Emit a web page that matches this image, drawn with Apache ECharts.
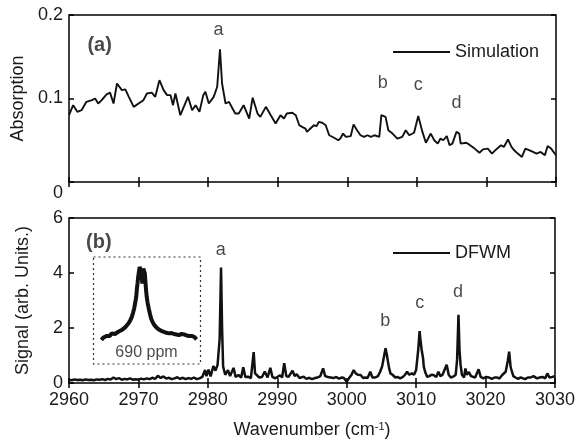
<!DOCTYPE html>
<html>
<head>
<meta charset="utf-8">
<script src="https://cdn.jsdelivr.net/npm/echarts@6/dist/echarts.min.js"></script>
<style>html,body{margin:0;padding:0;background:#fff}#c{width:578px;height:442px}</style>
</head>
<body>
<div id="c"></div>
<script>
// ---- data ----
const xTicks = [2960, 3030, 10];
const absTicks = [0, 0.2, 0.1];
const sigTicks = [0, 6, 2];

const simulation = [
[2960.0,0.080],[2960.6,0.092],[2961.2,0.084],[2961.8,0.086],[2962.5,0.096],[2963.3,0.098],[2963.75,0.100],[2964.2,0.094],[2964.7,0.098],[2965.4,0.105],[2965.9,0.107],[2966.4,0.094],[2966.9,0.118],[2967.6,0.110],[2968.1,0.111],[2968.6,0.102],[2969.3,0.090],[2970.0,0.094],[2970.7,0.098],[2971.2,0.106],[2971.9,0.107],[2972.4,0.102],[2973.0,0.122],[2973.6,0.110],[2974.1,0.104],[2974.6,0.104],[2974.95,0.092],[2975.3,0.106],[2976.0,0.080],[2976.5,0.090],[2977.1,0.102],[2977.7,0.086],[2978.2,0.092],[2978.75,0.084],[2979.3,0.104],[2979.6,0.108],[2980.1,0.094],[2980.8,0.102],[2981.3,0.114],[2981.7,0.159],[2982.0,0.118],[2982.5,0.094],[2983.0,0.096],[2983.5,0.088],[2983.9,0.082],[2984.4,0.082],[2985.1,0.092],[2985.9,0.076],[2986.4,0.101],[2987.1,0.082],[2987.5,0.078],[2988.3,0.090],[2989.0,0.080],[2989.7,0.070],[2990.4,0.080],[2990.9,0.076],[2991.3,0.082],[2992.1,0.083],[2992.6,0.080],[2993.1,0.068],[2993.5,0.066],[2994.0,0.064],[2994.2,0.060],[2994.7,0.064],[2995.2,0.068],[2995.6,0.067],[2995.9,0.072],[2996.4,0.071],[2996.9,0.068],[2997.4,0.056],[2998.1,0.053],[2998.7,0.050],[2999.0,0.052],[2999.4,0.058],[2999.8,0.054],[3000.5,0.055],[3000.9,0.069],[3001.4,0.062],[3001.9,0.056],[3002.4,0.054],[3002.9,0.056],[3003.4,0.054],[3003.9,0.056],[3004.6,0.054],[3004.9,0.080],[3005.5,0.078],[3005.9,0.062],[3006.5,0.058],[3007.2,0.052],[3007.9,0.054],[3008.4,0.062],[3008.9,0.056],[3009.6,0.059],[3010.2,0.079],[3010.8,0.060],[3011.3,0.047],[3012.0,0.058],[3012.5,0.050],[3013.0,0.046],[3013.4,0.052],[3013.8,0.050],[3014.3,0.055],[3014.7,0.044],[3015.1,0.046],[3015.7,0.060],[3016.1,0.058],[3016.3,0.046],[3017.1,0.047],[3017.5,0.045],[3018.3,0.040],[3019.0,0.035],[3019.5,0.039],[3020.2,0.040],[3020.8,0.034],[3021.4,0.039],[3022.1,0.044],[3022.5,0.042],[3023.1,0.051],[3023.6,0.042],[3024.0,0.038],[3024.5,0.034],[3025.1,0.030],[3025.6,0.040],[3026.2,0.038],[3026.7,0.036],[3027.2,0.034],[3027.8,0.036],[3028.4,0.032],[3028.8,0.043],[3029.3,0.040],[3030.0,0.032]
];

const dfwm = [
[2960.0,0.12],[2960.4,0.10],[2960.8,0.13],[2961.2,0.11],[2961.6,0.12],[2962.0,0.10],[2962.4,0.13],[2962.8,0.11],[2963.2,0.12],[2963.6,0.10],[2964.0,0.13],[2964.4,0.12],[2964.8,0.14],[2965.2,0.11],[2965.6,0.15],[2966.0,0.13],[2966.4,0.20],[2966.8,0.14],[2967.2,0.18],[2967.6,0.12],[2968.0,0.15],[2968.4,0.13],[2968.8,0.17],[2969.2,0.12],[2969.6,0.14],[2970.0,0.12],[2970.4,0.16],[2970.8,0.13],[2971.2,0.17],[2971.6,0.14],[2972.0,0.19],[2972.4,0.15],[2972.8,0.26],[2973.2,0.18],[2973.6,0.24],[2974.0,0.16],[2974.4,0.19],[2974.8,0.14],[2975.2,0.17],[2975.6,0.21],[2976.0,0.15],[2976.4,0.19],[2976.8,0.14],[2977.2,0.18],[2977.6,0.15],[2978.0,0.20],[2978.4,0.14],[2978.8,0.17],[2979.2,0.22],[2979.6,0.47],[2979.8,0.25],[2980.1,0.49],[2980.4,0.24],[2980.8,0.62],[2981.1,0.45],[2981.4,0.66],[2981.7,1.6],[2981.9,4.2],[2982.05,2.0],[2982.2,0.6],[2982.5,0.3],[2982.9,0.47],[2983.2,0.25],[2983.7,0.55],[2984.0,0.22],[2984.4,0.29],[2984.8,0.2],[2985.1,0.57],[2985.4,0.22],[2985.8,0.23],[2986.2,0.18],[2986.6,1.12],[2986.8,0.35],[2987.0,0.42],[2987.4,0.2],[2987.8,0.22],[2988.2,0.42],[2988.6,0.2],[2989.0,0.55],[2989.3,0.22],[2989.7,0.17],[2990.0,0.22],[2990.4,0.28],[2990.7,0.2],[2991.0,0.72],[2991.3,0.25],[2991.6,0.22],[2992.2,0.45],[2992.5,0.25],[2992.8,0.32],[2993.2,0.18],[2993.8,0.23],[2994.2,0.15],[2994.6,0.19],[2995.0,0.14],[2995.4,0.18],[2995.8,0.2],[2996.2,0.25],[2996.6,0.53],[2996.9,0.25],[2997.3,0.22],[2997.7,0.2],[2998.1,0.18],[2998.5,0.22],[2998.9,0.16],[2999.3,0.2],[2999.6,0.18],[3000.0,0.05],[3000.4,0.2],[3000.7,0.3],[3001.0,0.47],[3001.3,0.35],[3001.6,0.3],[3002.0,0.29],[3002.4,0.18],[3002.7,0.2],[3003.0,0.18],[3003.4,0.41],[3003.7,0.2],[3004.1,0.2],[3004.5,0.25],[3004.8,0.4],[3005.1,0.6],[3005.4,1.0],[3005.6,1.26],[3005.8,1.0],[3005.9,0.84],[3006.1,0.55],[3006.3,0.35],[3006.6,0.3],[3007.0,0.2],[3007.3,0.22],[3007.7,0.17],[3008.1,0.22],[3008.4,0.3],[3008.7,0.41],[3009.0,0.3],[3009.4,0.35],[3009.7,0.3],[3010.0,0.47],[3010.3,1.2],[3010.5,1.89],[3010.65,1.5],[3010.8,1.2],[3011.0,0.9],[3011.1,0.6],[3011.3,0.4],[3011.6,0.22],[3011.9,0.25],[3012.2,0.3],[3012.5,0.29],[3012.9,0.22],[3013.2,0.41],[3013.5,0.25],[3013.8,0.3],[3014.0,0.25],[3014.4,0.66],[3014.7,0.29],[3015.0,0.2],[3015.4,0.24],[3015.7,0.3],[3015.9,0.84],[3016.1,2.48],[3016.25,1.2],[3016.4,0.66],[3016.6,0.3],[3016.9,0.2],[3017.1,0.53],[3017.3,0.3],[3017.6,0.4],[3017.9,0.25],[3018.1,0.29],[3018.5,0.2],[3019.0,0.5],[3019.3,0.22],[3019.7,0.17],[3020.1,0.22],[3020.5,0.2],[3020.9,0.15],[3021.3,0.2],[3021.7,0.2],[3022.0,0.16],[3022.4,0.29],[3022.9,0.41],[3023.2,0.8],[3023.4,1.14],[3023.6,0.6],[3023.7,0.5],[3024.0,0.25],[3024.3,0.2],[3024.7,0.15],[3025.0,0.2],[3025.3,0.18],[3025.7,0.14],[3026.1,0.2],[3026.5,0.2],[3026.9,0.25],[3027.4,0.17],[3027.8,0.2],[3028.2,0.22],[3028.6,0.17],[3028.9,0.35],[3029.2,0.2],[3029.6,0.22],[3030.0,0.25]
];

// inset (zoomed peak a, relative units)
const insetPeak = [
[7.9,0.224],[9.5,0.245],[11.0,0.254],[12.6,0.262],[14.2,0.270],[15.8,0.262],[17.4,0.286],[19.0,0.276],[20.5,0.280],[22.1,0.296],[23.7,0.301],[25.3,0.308],[26.8,0.317],[28.4,0.326],[30.0,0.342],[31.6,0.356],[33.1,0.379],[34.7,0.405],[36.3,0.441],[37.4,0.478],[38.5,0.519],[39.5,0.575],[40.4,0.627],[41.0,0.700],[41.6,0.752],[42.3,0.820],[42.9,0.860],[43.6,0.905],[44.2,0.907],[44.8,0.880],[45.4,0.845],[46.1,0.752],[46.6,0.830],[47.0,0.892],[47.5,0.910],[47.9,0.907],[48.4,0.850],[48.9,0.783],[49.5,0.700],[50.2,0.627],[51.1,0.570],[52.1,0.519],[53.2,0.470],[54.3,0.426],[55.8,0.390],[57.4,0.363],[59.4,0.340],[61.5,0.323],[63.8,0.310],[66.2,0.301],[68.6,0.292],[71.0,0.286],[73.4,0.290],[75.7,0.280],[78.0,0.276],[80.4,0.270],[82.8,0.281],[85.2,0.277],[87.5,0.266],[89.9,0.261],[92.2,0.262],[94.6,0.254],[96.8,0.230]
];

const topPeakLabels = [['a',2981.5,0.182],['b',3005.1,0.119],['c',3010.2,0.116],['d',3015.7,0.094]];
const bottomPeakLabels = [['a',2981.86,4.85],['b',3005.56,2.26],['c',3010.53,2.91],['d',3016.05,3.32]];
const panelLabels = [['(a)',2964.4,0.164],['(b)',2964.3,5.11]];
const insetText = [['690 ppm',50,0.105]];

// ---- chart ----
const FONT = 'Liberation Sans, Arial, sans-serif';
const TXT = '#1a1a1a';
const chart = echarts.init(document.getElementById('c'), null, {renderer:'canvas'});

function xAx(grid, pos, labels, extra) {
  return Object.assign({
    type:'value', gridIndex:grid, position:pos, min:xTicks[0], max:xTicks[1], interval:xTicks[2],
    axisLine:{show:false}, splitLine:{show:false},
    axisTick:{show:true, inside:true, length:5, lineStyle:{color:'#000', width:1.5}},
    axisLabel:{show:labels, fontSize:18, fontFamily:FONT, color:TXT, margin:8, formatter:v => String(v)}
  }, extra||{});
}
function yAx(grid, pos, t, labels, extra) {
  return Object.assign({
    type:'value', gridIndex:grid, position:pos, min:t[0], max:t[1], interval:t[2],
    axisLine:{show:false}, splitLine:{show:false},
    axisTick:{show:true, inside:true, length:5, lineStyle:{color:'#000', width:1.5}},
    axisLabel:{show:labels, fontSize:18, fontFamily:FONT, color:TXT, margin:6}
  }, extra||{});
}
function annot(xi, yi, arr, style) {
  return {
    type:'scatter', xAxisIndex:xi, yAxisIndex:yi, symbolSize:1, silent:true,
    itemStyle:{color:'rgba(0,0,0,0)'},
    data: arr.map(d => ({name:d[0], value:[d[1], d[2]]})),
    label:Object.assign({show:true, position:'inside', formatter:p=>p.name, fontFamily:FONT, color:TXT, fontSize:18}, style||{}),
    z:10
  };
}

const option = {
  animation:false,
  backgroundColor:'#fff',
  grid:[
    {left:69, right:22, top:15, height:167, show:true, borderColor:'#000', borderWidth:1.5},
    {left:69, right:22, top:218, height:165, show:true, borderColor:'#000', borderWidth:1.5},
    {left:93, width:107, top:257, height:107}
  ],
  xAxis:[
    xAx(0,'bottom',false),
    xAx(1,'bottom',true,{name:'Wavenumber (cm{sup|-1})', nameLocation:'middle', nameGap:38,
      nameTextStyle:{fontSize:18, fontFamily:FONT, color:TXT, rich:{sup:{fontSize:11, fontFamily:FONT, color:TXT, verticalAlign:'top', padding:[0,0,8,0]}}}}),
    xAx(0,'top',false),
    xAx(1,'top',false),
    {type:'value', gridIndex:2, min:0, max:100, show:false}
  ],
  yAxis:[
    yAx(0,'left',absTicks,true,{name:'Absorption', nameLocation:'middle', nameGap:35,
      nameTextStyle:{fontSize:18, fontFamily:FONT, color:TXT},
      axisLabel:{show:true, fontSize:18, fontFamily:FONT, color:TXT, margin:6,
        formatter:v => v === 0 ? '{lo|0}' : String(v),
        rich:{lo:{fontSize:18, fontFamily:FONT, color:TXT, padding:[22,0,0,0]}}}}),
    yAx(1,'left',sigTicks,true,{name:'Signal (arb. Units.)', nameLocation:'middle', nameGap:37,
      nameTextStyle:{fontSize:18, fontFamily:FONT, color:TXT}}),
    yAx(0,'right',absTicks,false),
    yAx(1,'right',sigTicks,false),
    {type:'value', gridIndex:2, min:0, max:1, show:false}
  ],
  legend:[
    {data:[{name:'Simulation', icon:'rect'}], left:388, top:38, itemWidth:57, itemHeight:2, itemGap:0,
     itemStyle:{color:'#111'}, textStyle:{fontSize:18, fontFamily:FONT, color:TXT}},
    {data:[{name:'DFWM', icon:'rect'}], left:388, top:239, itemWidth:57, itemHeight:2, itemGap:0,
     itemStyle:{color:'#111'}, textStyle:{fontSize:18, fontFamily:FONT, color:TXT}}
  ],
  graphic:[
    {type:'rect', shape:{x:93.5, y:257, width:107, height:107}, silent:true,
     style:{fill:'none', stroke:'#333', lineWidth:1.2, lineDash:[2,3]}}
  ],
  series:[
    {name:'Simulation', type:'line', xAxisIndex:0, yAxisIndex:0, data:simulation, symbol:'none',
     lineStyle:{color:'#111', width:1.9}, itemStyle:{color:'#111'}},
    {name:'DFWM', type:'line', xAxisIndex:1, yAxisIndex:1, data:dfwm, symbol:'none',
     lineStyle:{color:'#111', width:2.5}, itemStyle:{color:'#111'}},
    {name:'inset', type:'line', xAxisIndex:4, yAxisIndex:4, data:insetPeak, symbol:'none',
     lineStyle:{color:'#111', width:4}},
    annot(0,0,topPeakLabels),
    annot(1,1,bottomPeakLabels),
    annot(0,0,[panelLabels[0]],{fontWeight:'bold', fontSize:20}),
    annot(1,1,[panelLabels[1]],{fontWeight:'bold', fontSize:20}),
    annot(4,4,insetText,{fontSize:16})
  ]
};
chart.setOption(option);
</script>
</body>
</html>
